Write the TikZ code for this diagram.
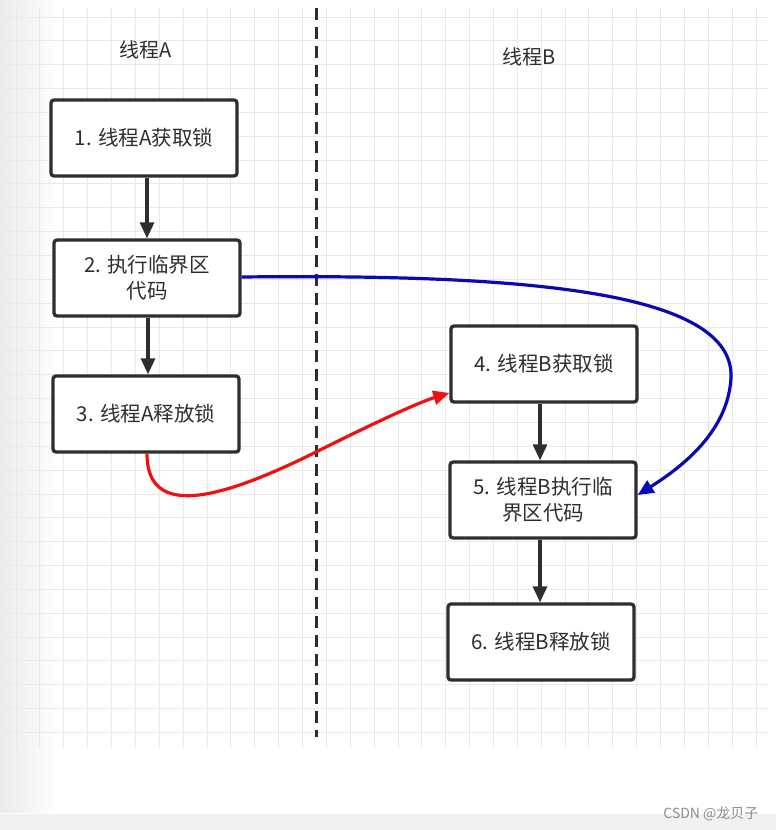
\documentclass[tikz,border=0pt]{standalone}
\usepackage{fontspec}
\setmainfont{Noto Sans CJK SC}
\usetikzlibrary{arrows.meta}
\definecolor{gridc}{HTML}{E9E9E9}
\definecolor{ink}{HTML}{2E2E2E}
\definecolor{bluec}{HTML}{0A0AB4}
\definecolor{redc}{HTML}{F01010}
\tikzset{
  stepbox/.style={draw=ink, line width=3.3pt, rounded corners=3pt, fill=white,
    minimum width=186pt, minimum height=76pt, align=center, text=ink,
    font=\fontsize{20.5pt}{26pt}\selectfont, inner sep=0pt},
  flow/.style={draw=ink, line width=3.2pt, -{Triangle[length=16pt,width=14pt]}},
  title/.style={text=ink, font=\fontsize{20pt}{24pt}\selectfont},
}
\begin{document}
\begin{tikzpicture}[x=1pt,y=-1pt]
\useasboundingbox (0,0) rectangle (776,830);
\fill[white] (0,0) rectangle (776,830);
% left shadow
\shade[left color=black!8, right color=white] (0,0) rectangle (60,812);
% grid
\foreach \k in {0,...,31} {\draw[gridc, line width=1pt] ({16.1+23.87*\k},8) -- ({16.1+23.87*\k},748);}
\foreach \k in {0,...,30} {\draw[gridc, line width=1pt] (2,{17+23.85*\k}) -- (768,{17+23.85*\k});}
% bottom band
\fill[black!6] (0,814) rectangle (776,830);
\node[anchor=east, text=black!45, font=\fontsize{14pt}{16pt}\selectfont] (foot) at (762,814) {CSDN @龙贝子};
% divider
\coordinate (dtop) at (316,8);
\coordinate (dbot) at (316,737);
\draw[ink, line width=3pt, dash pattern=on 12pt off 7pt] (dtop) -- (dbot);
% titles
\node[title] (ta) at (146,50) {线程A};
\node[title] (tb) at (529,57) {线程B};
% boxes
\node[stepbox] (n1) at (144,138) {1. 线程A获取锁};
\node[stepbox] (n2) at (147,278) {2. 执行临界区\\代码};
\node[stepbox] (n3) at (146,414) {3. 线程A释放锁};
\node[stepbox] (n4) at (544,364) {4. 线程B获取锁};
\node[stepbox] (n5) at (543,500) {5. 线程B执行临\\界区代码};
\node[stepbox] (n6) at (541,642) {6. 线程B释放锁};
% flow arrows
\draw[flow] (n1.south -| 147,0) -- (n2.north -| 147,0);
\draw[flow] (n2.south -| 148,0) -- (n3.north -| 148,0);
\draw[flow] (n4.south -| 540,0) -- (n5.north -| 540,0);
\draw[flow] (n5.south -| 540,0) -- (n6.north -| 540,0);
% blue curve
\draw[bluec, line width=3.2pt, -{Triangle[length=16pt,width=14pt]}]
  (n2.east |- 0,277) .. controls (520,274) and (735,290) .. (731,378)
  .. controls (728,430) and (685,465) .. (n5.east |- 0,495);
% red curve
\draw[redc, line width=3.2pt, -{Triangle[length=16pt,width=14pt]}]
  (n3.south -| 147,0) .. controls (147,510) and (200,510) .. (316,452)
  .. controls (380,420) and (420,402) .. (n4.west |- 0,393);
\end{tikzpicture}
\end{document}
